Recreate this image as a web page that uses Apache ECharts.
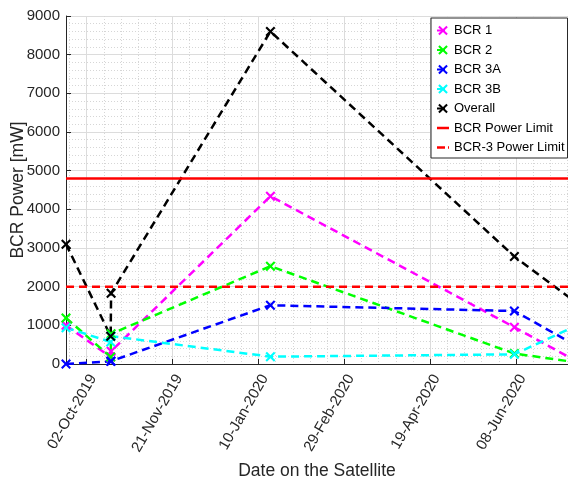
<!DOCTYPE html>
<html><head><meta charset="utf-8">
<script src="https://cdn.jsdelivr.net/npm/echarts@6/dist/echarts.min.js"></script>
<style>html,body{margin:0;padding:0;background:#fff}#c{width:568px;height:481px}</style>
</head><body><div id="c"></div>
<script>
// ---- data ----
const dates = ['2019-09-20 00:00','2019-10-16 00:00','2019-10-16 06:00','2020-01-17 00:00','2020-06-07 00:00','2020-07-12 00:00'];
const bcr1    = [1000, 180, 330, 4340,  950,  100];
const bcr2    = [1190, 180, 780, 2530,  270,   50];
const bcr3a   = [   0,  70,  70, 1520, 1370,  500];
const bcr3b   = [ 940, 570, 720,  190,  250,  970];
const overall = [3100, 720,1830, 8600, 2780, 1620];
const bcrPowerLimit = 4800;
const bcr3PowerLimit = 2000;
const xTickLabels = ['02-Oct-2019','21-Nov-2019','10-Jan-2020','29-Feb-2020','19-Apr-2020','08-Jun-2020'];
const xTickStepDays = 50;
const xMinorStepDays = 10;
const axisStart = '2019-09-20 00:00';
const axisEnd = '2020-07-08 05:00';

// ---- helpers ----
const EPOCH = Date.UTC(2019, 9, 2); // first labelled tick (02-Oct-2019)
function dayOf(s){
  const [d,t] = s.split(' ');
  const [Y,M,D] = d.split('-').map(Number);
  const [h,m] = (t||'00:00').split(':').map(Number);
  return (Date.UTC(Y, M-1, D, h, m) - EPOCH) / 86400000;
}
const xMin = dayOf(axisStart), xMax = dayOf(axisEnd);
const majorVals = xTickLabels.map((_, i) => i * xTickStepDays);
const minorVals = [];
for (let v = Math.ceil(xMin / xMinorStepDays) * xMinorStepDays; v <= xMax; v += xMinorStepDays) minorVals.push(v);

const FONT = 'Liberation Sans, Arial, Helvetica, sans-serif';
const TXT = '#262626';
const XSYM = 'path://M0,1.5 L1.5,0 L5,3.5 L8.5,0 L10,1.5 L6.5,5 L10,8.5 L8.5,10 L5,6.5 L1.5,10 L0,8.5 L3.5,5 Z';
const SOLID_ICON = 'path://M0,0 L12,0 L12,2.5 L0,2.5 Z';
const DASH_ICON = 'path://M0,0 L8,0 L8,2.5 L0,2.5 Z M11,0 L12,0 L12,2.5 L11,2.5 Z';

function mk(name, vals, color){
  return {
    name, type:'line', xAxisIndex:0, yAxisIndex:0,
    data: dates.map((d,i)=>[dayOf(d), vals[i]]),
    symbol: XSYM, symbolSize: 10, showSymbol: true,
    lineStyle:{color, width:2.5, type:[8,5]},
    itemStyle:{color},
    clip:true, animation:false
  };
}
function limit(name, v, type){
  return {
    name, type:'line', xAxisIndex:0, yAxisIndex:0,
    data: [[xMin, v],[xMax, v]],
    symbol:'none', showSymbol:false,
    lineStyle:{color:'#ff0000', width:2.5, type},
    itemStyle:{color:'#ff0000'},
    clip:true, animation:false
  };
}

const chart = echarts.init(document.getElementById('c'), null, {renderer:'canvas'});
chart.setOption({
  animation:false,
  backgroundColor:'#fff',
  textStyle:{fontFamily:FONT},
  grid:{left:66, right:0, top:16, bottom:117, containLabel:false, outerBoundsMode:'none'},
  legend:{
    orient:'vertical', left:431, top:18,
    padding:[6,3,4,5], itemGap:6.5, itemWidth:12, itemHeight:12,
    backgroundColor:'#fff', borderColor:'#262626', borderWidth:1, borderRadius:0,
    textStyle:{fontSize:13, color:'#000', fontFamily:FONT},
    data:['BCR 1','BCR 2','BCR 3A','BCR 3B','Overall',
      {name:'BCR Power Limit', icon:SOLID_ICON},
      {name:'BCR-3 Power Limit', icon:DASH_ICON}]
  },
  xAxis:[
    { // minor grid (10 days)
      type:'value', min:xMin, max:xMax, position:'bottom',
      axisLine:{show:false}, axisTick:{show:false, customValues:minorVals}, axisLabel:{show:false},
      splitLine:{show:true, lineStyle:{color:'#d6d6d6', width:1, type:[1,2]}}
    },
    { // major ticks (50 days)
      type:'value', min:xMin, max:xMax, position:'bottom',
      axisLine:{show:true, onZero:false, lineStyle:{color:TXT, width:1}},
      axisTick:{show:true, inside:true, length:5, lineStyle:{color:TXT}, customValues:majorVals},
      axisLabel:{
        show:true, rotate:60, fontSize:15, color:TXT, fontFamily:FONT, margin:8,
        verticalAlign:'top',
        customValues:majorVals,
        formatter:function(v){
          const k = Math.round(v / xTickStepDays);
          return xTickLabels[k] || '';
        }
      },
      splitLine:{show:true, lineStyle:{color:'#dcdcdc', width:1}},
      name:'Date on the Satellite', nameLocation:'middle', nameGap:98, nameMoveOverlap:false,
      nameTextStyle:{fontSize:17.5, color:TXT, fontFamily:FONT}
    }
  ],
  yAxis:{
    type:'value', min:0, max:9000, interval:1000,
    axisLine:{show:true, onZero:false, lineStyle:{color:TXT, width:1}},
    axisTick:{show:true, inside:true, length:5, lineStyle:{color:TXT}},
    axisLabel:{fontSize:15, color:TXT, margin:6, fontFamily:FONT, formatter:function(v){return String(v);}},
    splitLine:{show:true, lineStyle:{color:'#dcdcdc', width:1}},
    minorTick:{show:false, splitNumber:5},
    minorSplitLine:{show:true, lineStyle:{color:'#d6d6d6', width:1, type:[1,2]}},
    name:'BCR Power [mW]', nameLocation:'middle', nameGap:39, nameMoveOverlap:false,
    nameTextStyle:{fontSize:17.5, color:TXT, fontFamily:FONT}
  },
  series:[
    mk('BCR 1', bcr1, '#ff00ff'),
    mk('BCR 2', bcr2, '#00ff00'),
    mk('BCR 3A', bcr3a, '#0000ff'),
    mk('BCR 3B', bcr3b, '#00ffff'),
    mk('Overall', overall, '#000000'),
    limit('BCR Power Limit', bcrPowerLimit, 'solid'),
    limit('BCR-3 Power Limit', bcr3PowerLimit, [8,5])
  ]
});
</script></body></html>
